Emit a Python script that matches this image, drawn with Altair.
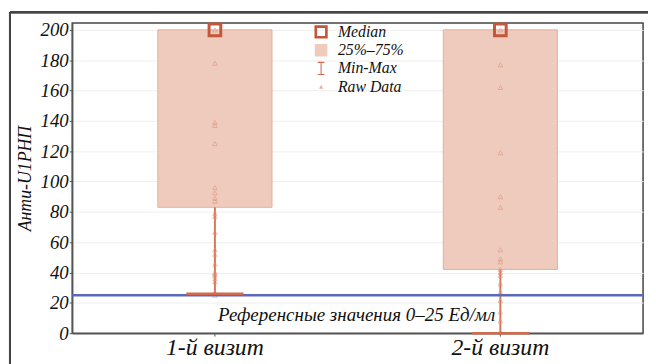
import altair as alt
import pandas as pd

visits = ["1-й визит", "2-й визит"]
mins = [26, 0]
q1s = [83, 42]
medians = [200, 200]
q3s = [200, 200]
maxs = [200, 200]

raw_visit1 = [200, 178, 139, 137, 125, 96, 92.5, 89, 87, 79, 77, 66.5, 55, 52, 45.5, 40, 39, 38, 36, 34, 27, 25]
raw_visit2 = [200, 177, 162, 119, 90, 83, 55, 49, 47, 42, 40, 38, 32.5, 27, 21.5, 14, 8, 1]

y_ticks = [0, 20, 40, 60, 80, 100, 120, 140, 160, 180, 200]
legend_items = ["Median", "25%–75%", "Min-Max", "Raw Data"]
ref_value = 25
ref_text = "Референсные значения 0–25 Ед/мл"
y_title = "Анти-U1РНП"

summary = pd.DataFrame({"visit": visits, "min": mins, "q1": q1s, "median": medians, "q3": q3s, "max": maxs})
raw = pd.DataFrame({
    "visit": [visits[0]] * len(raw_visit1) + [visits[1]] * len(raw_visit2),
    "value": raw_visit1 + raw_visit2,
})
leg = pd.DataFrame({"item": legend_items})

FONT = "Liberation Serif"
W, H = 578, 314

x_enc = alt.X("visit:N", sort=visits, title=None,
              scale=alt.Scale(paddingOuter=0, paddingInner=0),
              axis=alt.Axis(labelAngle=0, labelFontSize=24, labelFont=FONT, labelFontStyle="italic",
                            labelColor="#111", tickSize=3, tickColor="#555", labelPadding=0,
                            domainColor="#555", domainWidth=1.5, grid=False))
y_scale = alt.Scale(domain=[0, 204.5], nice=False, zero=False)
y_axis = alt.Axis(values=y_ticks, labelOverlap=False, labelFontSize=19, labelFont=FONT,
                  labelFontStyle="italic", labelColor="#111", tickSize=3, tickColor="#555", labelPadding=1,
                  domainColor="#555", domainWidth=1.5, gridColor="#efefef", gridWidth=1,
                  title=y_title, titleFont=FONT, titleFontStyle="italic", titleFontWeight="normal",
                  titleFontSize=18, titleColor="#111", titlePadding=6)


def Y(field):
    return alt.Y(field, scale=y_scale, axis=y_axis)


base = alt.Chart(summary)

box = base.mark_bar(width=alt.RelativeBandSize(0.4), color="#efcbbd", stroke="#e3b09e", strokeWidth=1).encode(
    x=x_enc, y=Y("q1:Q"), y2="q3:Q")
whisk_lo = base.mark_rule(color="#d9775a", strokeWidth=2).encode(x=x_enc, y=Y("min:Q"), y2="q1:Q")
whisk_hi = base.mark_rule(color="#d9775a", strokeWidth=2).encode(x=x_enc, y=Y("q3:Q"), y2="max:Q")
cap = base.mark_tick(color="#d46a4c", thickness=2.5, size=58, opacity=1).encode(x=x_enc, y=Y("min:Q"))

points = alt.Chart(raw).mark_point(shape="triangle-up", size=22, color="#e08d72", opacity=0.55,
                                   strokeWidth=1).encode(x=x_enc, y=Y("value:Q"))

med = base.mark_point(shape="square", size=140, color="#c4573a", strokeWidth=3, opacity=1).encode(
    x=x_enc, y=Y("median:Q"))

ref = alt.Chart(pd.DataFrame({"v": [ref_value]})).mark_rule(color="#5a69bf", strokeWidth=2.5).encode(
    y=Y("v:Q"))

txt = alt.Chart(pd.DataFrame({"t": [ref_text], "v": [12]})).mark_text(
    font=FONT, fontStyle="italic", fontSize=19.2, color="#111", align="center", baseline="middle").encode(
    x=alt.value(288), y=Y("v:Q"), text="t:N")

median_path = "M-1,-1H1V1H-1Z M-0.6,-0.6V0.6H0.6V-0.6Z"
box_path = "M-0.95,-0.95H0.95V0.95H-0.95Z"
whisker_path = "M-0.5,-1H0.5V-0.84H0.08V0.84H0.5V1H-0.5V0.84H-0.08V-0.84H-0.5Z"
raw_path = "M0,-0.3L0.32,0.3L-0.32,0.3Z"
legend_cfg = dict(title=None, orient="none", legendX=244, legendY=1, labelFont=FONT, labelFontStyle="italic",
                  labelFontSize=16, labelColor="#111", labelOffset=9, rowPadding=2.5, padding=0,
                  symbolStrokeWidth=0, symbolOpacity=1, symbolSize=180)
legend_layer = alt.Chart(leg).mark_point(filled=True, opacity=1).encode(
    x=alt.value(5), y=alt.value(-600),
    shape=alt.Shape("item:N", scale=alt.Scale(domain=legend_items,
                                               range=[median_path, box_path, whisker_path, raw_path]),
                    legend=alt.Legend(**legend_cfg)),
    color=alt.Color("item:N", scale=alt.Scale(domain=legend_items,
                                               range=["#c4573a", "#efcbbd", "#d46a4c", "#eab2a0"]),
                    legend=alt.Legend(**legend_cfg)),
)

frame_top = alt.Chart(leg).mark_rule(color="#444", strokeWidth=2).encode(
    x=alt.value(-63), x2=alt.value(700), y=alt.value(-11))
frame_left = alt.Chart(leg).mark_rule(color="#444", strokeWidth=2).encode(
    x=alt.value(-63), y=alt.value(-11), y2=alt.value(400))

chart = alt.layer(box, whisk_lo, whisk_hi, points, ref, cap, med, txt, legend_layer, frame_top, frame_left).properties(
    width=W, height=H,
    autosize=alt.AutoSizeParams(type="none"),
    padding={"left": 65, "top": 13, "right": 5, "bottom": 30},
    background="white",
).configure_view(stroke="#444", strokeWidth=1.5)

chart.save("out.html", embed_options={"renderer": "svg", "actions": False})
